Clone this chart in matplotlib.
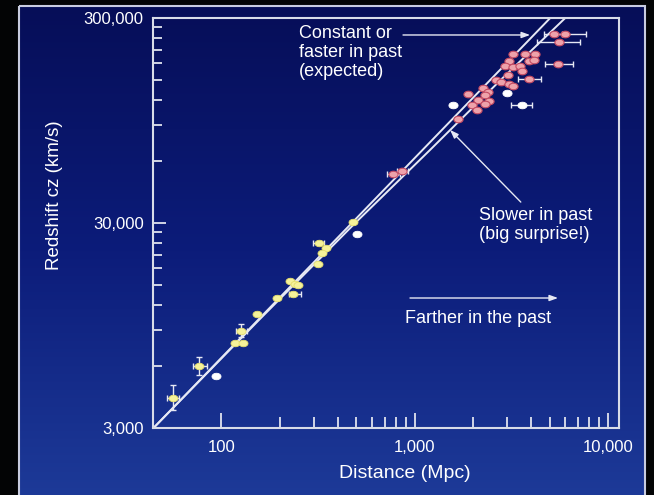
import numpy as np
import matplotlib
matplotlib.use("Agg")
import matplotlib.pyplot as plt
from matplotlib.path import Path
from matplotlib.patches import Rectangle
from matplotlib.colors import LinearSegmentedColormap
from matplotlib.ticker import FixedLocator, FixedFormatter, NullFormatter

plt.rcParams['font.family'] = ['Liberation Sans', 'DejaVu Sans']

# ---- data (distance in Mpc, redshift cz in km/s) ----
# nearby supernovae (yellow)
near_d = [56, 77, 117, 129, 127, 153, 193, 226, 239, 250, 236, 319, 346, 332, 316, 482]
near_cz = [4190, 6040, 7820, 7800, 8960, 10800, 12900, 15550, 15200, 14950,
           13460, 23830, 22570, 21490, 18930, 30270]
near_white_d = [94, 505]
near_white_cz = [5400, 26450]

# distant supernovae (pink)
far_d = [777, 865, 5240, 6030, 5590, 5520, 3240, 3710, 4200, 3100, 3890, 4130,
         2940, 3230, 3510, 3580, 3040, 3930, 2650, 2790, 3070, 3250, 2270, 2390,
         2320, 2420, 1890, 2140, 1990, 2110, 2320, 1670]
far_cz = [51850, 53800, 249800, 249200, 229100, 179500, 199100, 199500, 199500,
          184600, 185200, 187800, 174400, 172400, 174400, 164500, 158700, 150700,
          149500, 145900, 143400, 139800, 136200, 131100, 125600, 117400, 127800,
          119900, 112300, 106700, 114200, 96800]
far_white_d = [3015, 1574, 3614]
far_white_cz = [129600, 112500, 112900]

# horizontal error bars
xerr_d = [56, 77, 127, 236, 319, 777, 865, 5240, 6030, 5590, 5520, 3930, 3614]
xerr_cz = [4190, 6040, 8960, 13460, 23830, 51850, 53800, 249800, 249200, 229100,
           179500, 150700, 112900]
xerr_lo = [52, 71.2, 118.9, 224.6, 296.8, 716, 812, 4690, 5410, 4300, 4720, 3430, 3160]
xerr_hi = [60.4, 84.1, 135.6, 257.3, 339.7, 841, 925, 5810, 7740, 7200, 6620, 4500, 4070]

# vertical error bars
yerr_d = [56, 77, 127]
yerr_cz = [4190, 6040, 8960]
yerr_lo = [3674, 5443, 8367]
yerr_hi = [4866, 6685, 9649]

# model lines
const_d = [44.5, 5040]
const_cz = [3000, 300000]
slow_d = [44.5, 155, 493, 1200, 2800, 6030]
slow_cz = [3000, 10000, 30000, 68000, 150000, 300000]

# ---- figure ----
fig = plt.figure(figsize=(6.54, 4.95), dpi=100)
fig.patch.set_facecolor('#030405')

bg = fig.add_axes([0, 0, 1, 1], zorder=-10)
bg.set_xlim(0, 654)
bg.set_ylim(495, 0)
bg.axis('off')
grad = np.linspace(0, 1, 256)[:, None]
cmap = LinearSegmentedColormap.from_list('panel', ['#060e58', '#0c1c7a', '#1d3a98'])
bg.imshow(grad, extent=(19, 645, 497, 6), cmap=cmap, aspect='auto')
bg.add_patch(Rectangle((19, 6), 626, 491, fill=False, edgecolor='#c8cce0', lw=1.5))

ax = fig.add_axes([0.2347, 0.1354, 0.7118, 0.8283])
ax.set_facecolor('none')
ax.set_xscale('log')
ax.set_yscale('log')
ax.set_xlim(44.5, 11440)
ax.set_ylim(3000, 300000)

line_col = '#e6e8f4'
ax.plot(const_d, const_cz, color=line_col, lw=1.4, zorder=2)
ax.plot(slow_d, slow_cz, color=line_col, lw=1.4, zorder=2)

ax.errorbar(xerr_d, xerr_cz,
            xerr=[np.subtract(xerr_d, xerr_lo), np.subtract(xerr_hi, xerr_d)],
            fmt='none', ecolor=line_col, elinewidth=1, capsize=2.5, capthick=1, zorder=3)
ax.errorbar(yerr_d, yerr_cz,
            yerr=[np.subtract(yerr_cz, yerr_lo), np.subtract(yerr_hi, yerr_cz)],
            fmt='none', ecolor=line_col, elinewidth=1, capsize=2.5, capthick=1, zorder=3)

t = np.linspace(0, 2 * np.pi, 41)
ell = Path(np.column_stack([np.cos(t), 0.72 * np.sin(t)]), closed=True)

ax.plot(near_d, near_cz, ls='none', marker=ell, ms=6.5, mfc='#f6f29a',
        mec='#e6de6c', mew=0.6, zorder=4)
ax.plot(near_white_d, near_white_cz, ls='none', marker=ell, ms=6.5, mfc='white',
        mec='white', mew=0.6, zorder=4)
ax.plot(far_d, far_cz, ls='none', marker=ell, ms=6.6, mfc='#eea2ab',
        mec='#c44a62', mew=0.8, zorder=4)
ax.plot(far_white_d, far_white_cz, ls='none', marker=ell, ms=6.6, mfc='white',
        mec='white', mew=0.6, zorder=4)

# axes styling
for s in ax.spines.values():
    s.set_color('#d8dce8')
    s.set_linewidth(1.5)

ax.xaxis.set_major_locator(FixedLocator([100, 1000, 10000]))
ax.xaxis.set_major_formatter(FixedFormatter(['100', '1,000', '10,000']))
ax.xaxis.set_minor_locator(FixedLocator([m * 100 for m in range(2, 10)] +
                                        [m * 1000 for m in range(2, 10)]))
ax.xaxis.set_minor_formatter(NullFormatter())
ax.yaxis.set_major_locator(FixedLocator([3000, 30000, 300000]))
ax.yaxis.set_major_formatter(FixedFormatter(['3,000', '30,000', '300,000']))
ax.yaxis.set_minor_locator(FixedLocator([m * 3000 for m in range(2, 10)] +
                                        [m * 30000 for m in range(2, 10)]))
ax.yaxis.set_minor_formatter(NullFormatter())

ax.tick_params(which='both', direction='in', color='#e0e3ee', width=1.3,
               top=False, right=False, labelcolor='white', labelsize=12)
ax.tick_params(axis='x', which='major', length=10.8, pad=9)
ax.tick_params(axis='x', which='minor', length=8)
ax.tick_params(axis='y', which='major', length=9.4, pad=7)
ax.tick_params(axis='y', which='minor', length=6.5)

ax.set_xlabel('Distance (Mpc)', fontsize=14, color='white')
ax.xaxis.set_label_coords(0.540, -0.090)
ax.set_ylabel('Redshift cz (km/s)', fontsize=13.5, color='white')
ax.yaxis.set_label_coords(-0.194, 0.568)

# annotations
txt = dict(transform=ax.transAxes, color='white', fontsize=13, ha='left')
arr = dict(arrowstyle='-|>,head_length=0.5,head_width=0.18', color=line_col,
           lw=1, shrinkA=0, shrinkB=0)

ax.text(0.3126, 0.983, 'Constant or\nfaster in past\n(expected)', va='top',
        linespacing=1.15, **txt)
ax.annotate('', xy=(0.809, 0.9585), xytext=(0.536, 0.9585),
            xycoords='axes fraction', arrowprops=arr)

ax.text(0.699, 0.539, 'Slower in past\n(big surprise!)', va='top',
        linespacing=1.15, **txt)
ax.annotate('', xy=(0.637, 0.727), xytext=(0.789, 0.551),
            xycoords='axes fraction', arrowprops=arr)

ax.text(0.540, 0.266, 'Farther in the past', va='center', **txt)
ax.annotate('', xy=(0.869, 0.317), xytext=(0.551, 0.317),
            xycoords='axes fraction', arrowprops=arr)

fig.savefig('out.png', dpi=100, facecolor=fig.get_facecolor())
